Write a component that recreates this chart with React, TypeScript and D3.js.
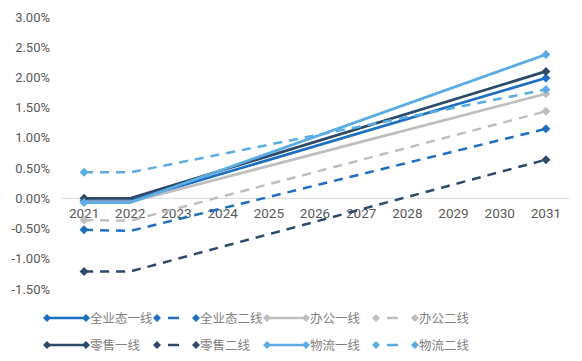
import React from "react";
import * as d3 from "d3";

const years = ["2021","2022","2023","2024","2025","2026","2027","2028","2029","2030","2031"];
const knownYears = ["2021", "2022", "2031"];
const markerYears = ["2021", "2031"];

const allFirst = [-0.0004, -0.0004, 0.0199];
const allSecond = [-0.0052, -0.0054, 0.0115];
const officeFirst = [-0.0006, -0.0006, 0.0173];
const officeSecond = [-0.0036, -0.0037, 0.0144];
const retailFirst = [0.0, 0.0, 0.021];
const retailSecond = [-0.0121, -0.0121, 0.0064];
const logisticsFirst = [-0.0007, -0.0007, 0.0238];
const logisticsSecond = [0.0043, 0.0043, 0.018];

const yTicks = [0.03, 0.025, 0.02, 0.015, 0.01, 0.005, 0, -0.005, -0.01, -0.015];

const seriesList = [
  { name: "全业态一线", values: allFirst, color: "#1E6FBF", dashed: false },
  { name: "全业态二线", values: allSecond, color: "#1E6FBF", dashed: true },
  { name: "办公一线", values: officeFirst, color: "#BFBFBF", dashed: false },
  { name: "办公二线", values: officeSecond, color: "#BFBFBF", dashed: true },
  { name: "零售一线", values: retailFirst, color: "#2E4A6A", dashed: false },
  { name: "零售二线", values: retailSecond, color: "#2E4A6A", dashed: true },
  { name: "物流一线", values: logisticsFirst, color: "#5AACE2", dashed: false },
  { name: "物流二线", values: logisticsSecond, color: "#5AACE2", dashed: true },
];

const W = 582, H = 361;
const x = d3.scalePoint<string>().domain(years).range([61, 569]).padding(0.5);
const y = d3.scaleLinear().domain([-0.015, 0.03]).range([289, 17]);

const fmt = (v: number) => (v < 0 ? "-" : "") + Math.abs(v * 100).toFixed(2) + "%";

function Diamond({ cx, cy, color, r = 4.5 }: { cx: number; cy: number; color: string; r?: number }) {
  return <path d={`M${cx},${cy - r}L${cx + r},${cy}L${cx},${cy + r}L${cx - r},${cy}Z`} fill={color} />;
}

export default function App() {
  const line = d3.line<[string, number]>().x(d => x(d[0])!).y(d => y(d[1]));
  const legendCols = [47, 157, 267, 376];
  const legendRows = [318, 345];
  return (
    <svg width={W} height={H} style={{ display: "block", position: "absolute", left: 0, top: 0 }}>
      <rect width={W} height={H} fill="#fff" />
      <line x1={61} x2={570} y1={y(0)} y2={y(0)} stroke="#D9D9D9" strokeWidth={1} />
      {yTicks.map(t => (
        <text key={t} x={50} y={y(t) + 4.5} textAnchor="end" fontFamily="Roboto, 'Liberation Sans', sans-serif" fontSize={13} fill="#595959">
          {fmt(t)}
        </text>
      ))}
      {years.map(yr => (
        <text key={yr} x={x(yr)} y={218} textAnchor="middle" fontFamily="Roboto, 'Liberation Sans', sans-serif" fontSize={13.5} fill="#595959">
          {yr}
        </text>
      ))}
      {seriesList.map(s => {
        const pts: [string, number][] = knownYears.map((yr, i) => [yr, s.values[i]]);
        return (
          <g key={s.name}>
            <path d={line(pts)!} fill="none" stroke={s.color} strokeWidth={s.dashed ? 2.5 : 2.75}
              strokeDasharray={s.dashed ? "9,7" : undefined} />
            {pts.filter(p => markerYears.includes(p[0])).map(p => (
              <Diamond key={p[0]} cx={x(p[0])!} cy={y(p[1])} color={s.color} />
            ))}
          </g>
        );
      })}
      {seriesList.map((s, i) => {
        const lx = legendCols[i % 4];
        const ly = legendRows[Math.floor(i / 4)];
        return (
          <g key={"lg" + s.name}>
            <line x1={lx} x2={lx + 39} y1={ly} y2={ly} stroke={s.color} strokeWidth={2.5}
              strokeDasharray={s.dashed ? "0,11,11,100" : undefined} />
            <Diamond cx={lx} cy={ly} color={s.color} r={4} />
            <Diamond cx={lx + 39} cy={ly} color={s.color} r={4} />
            <text x={lx + 43} y={ly + 4.5} fontFamily="'Noto Sans CJK SC', sans-serif" fontSize={12.5} fill="#7F7F7F">
              {s.name}
            </text>
          </g>
        );
      })}
    </svg>
  );
}
